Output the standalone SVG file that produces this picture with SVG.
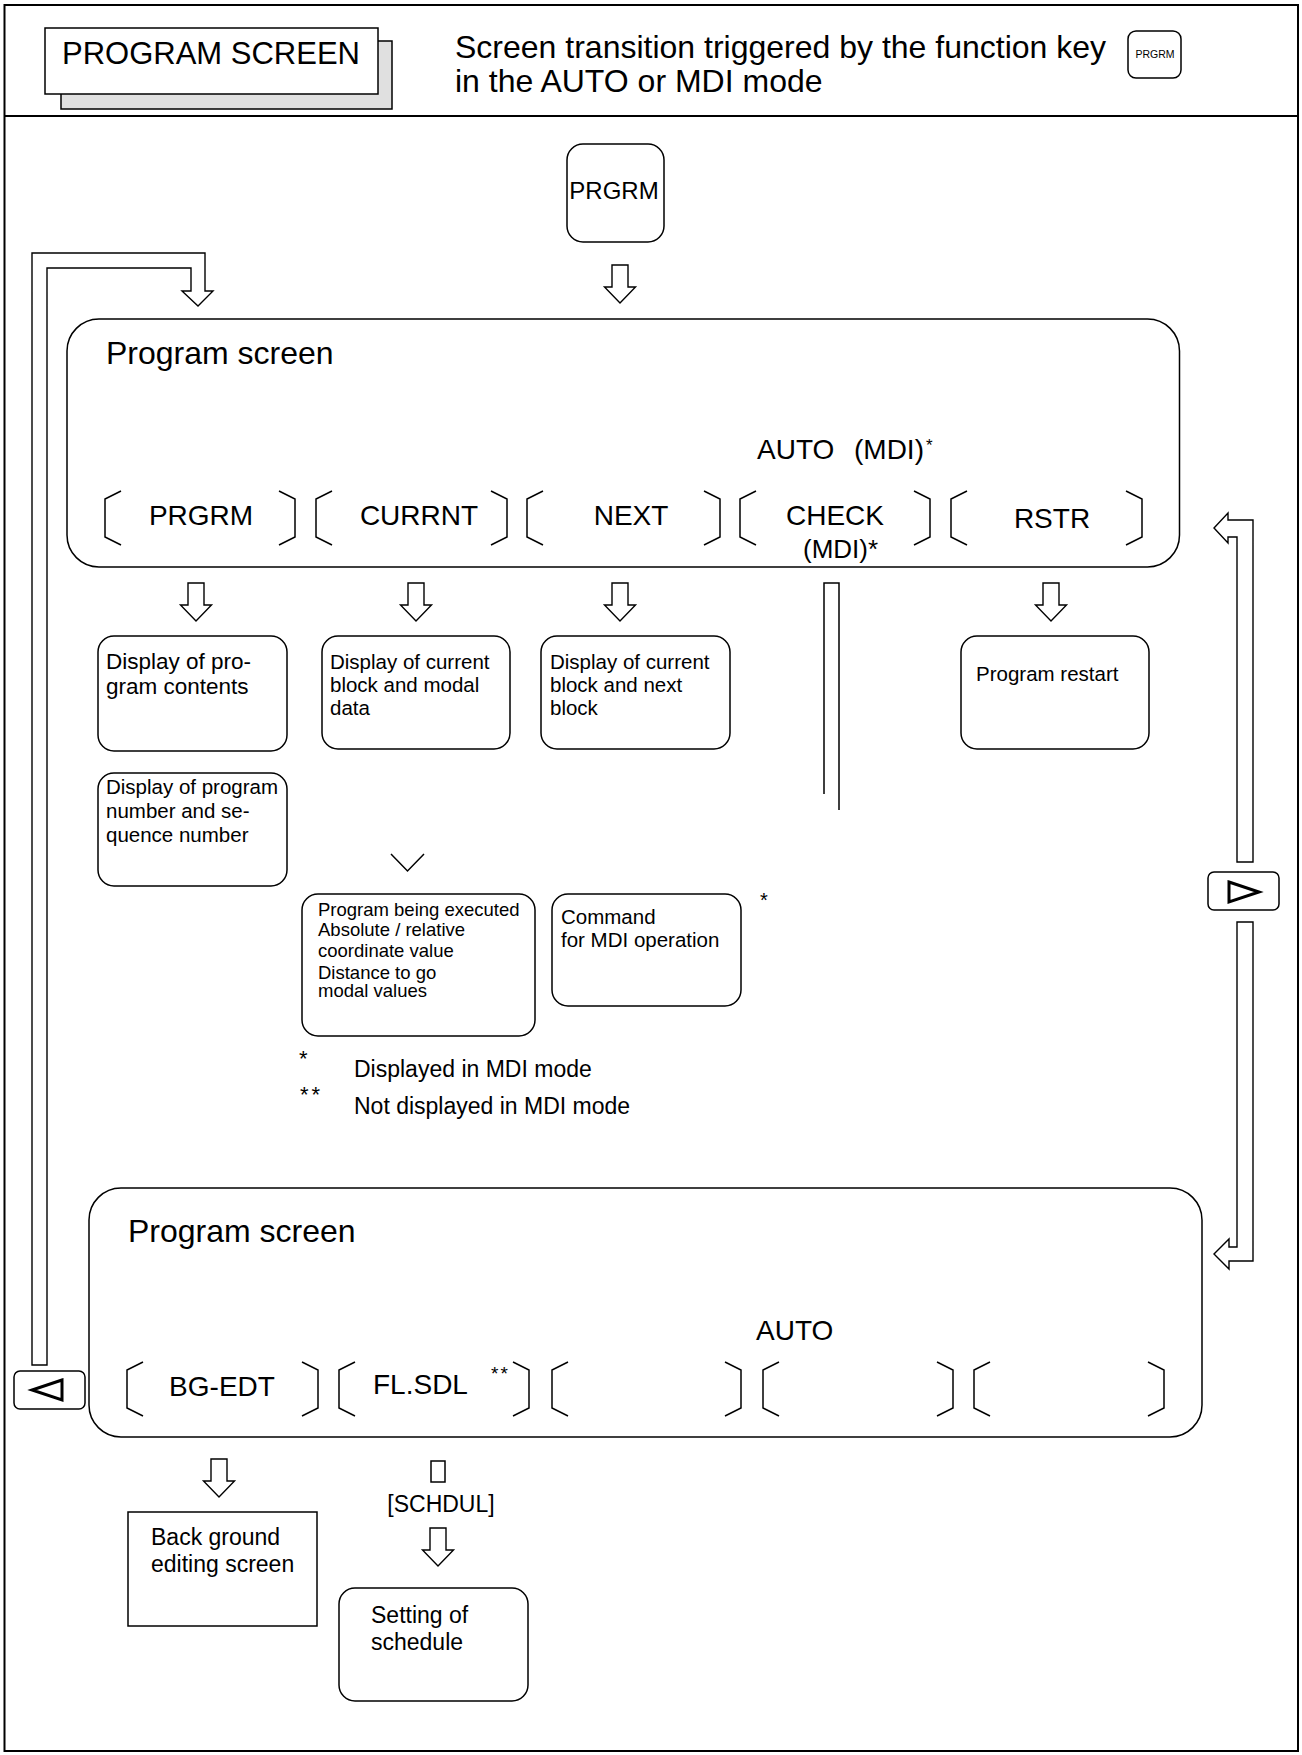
<svg xmlns="http://www.w3.org/2000/svg" width="1302" height="1755" viewBox="0 0 1302 1755">
<style>
text{font-family:"Liberation Sans",Arial,sans-serif;fill:#000}
.frame{fill:none;stroke:#000;stroke-width:2}
.box{fill:#fff;stroke:#000;stroke-width:1.5}
.ln{fill:none;stroke:#000;stroke-width:1.5}
.arr{fill:#fff;stroke:#000;stroke-width:1.4}
.tri{fill:none;stroke:#000;stroke-width:3;stroke-linejoin:miter}
.big{font-size:32px}
.key{font-size:28px}
</style>
<defs>
<path id="darr" class="arr" d="M-8,0 H8 V22 H15.5 L0,38 L-15.5,22 H-8 Z"/>
<path id="lb" class="ln" d="M16,0 L0,8 V46 L16,54"/>
<path id="rb" class="ln" d="M0,0 L16,8 V46 L0,54"/>
</defs>
<rect x="0" y="0" width="1302" height="1755" fill="#fff"/>
<rect class="frame" x="4.5" y="5" width="1293.5" height="1746"/>
<line class="frame" x1="4.5" y1="116" x2="1298" y2="116"/>

<g id="header-title">
<rect x="61" y="41" width="331" height="68" fill="#e0e0e0" stroke="#000" stroke-width="1.5"/>
<rect class="box" x="45" y="28" width="333" height="66"/>
<text x="62" y="64" font-size="31">PROGRAM SCREEN</text>
</g>
<g id="header-note">
<text x="455" y="58" class="big">Screen transition triggered by the function key</text>
<text x="455" y="92" class="big">in the AUTO or MDI mode</text>
<rect class="box" x="1128" y="31" width="53" height="47" rx="8"/>
<text x="1155" y="58" font-size="10.5" text-anchor="middle">PRGRM</text>
</g>

<g id="key-prgrm">
<rect class="box" x="567" y="144" width="97" height="98" rx="16"/>
<text x="614" y="199" font-size="24" text-anchor="middle">PRGRM</text>
</g>

<g id="screen-upper">
<rect class="box" x="67" y="319" width="1112.5" height="248" rx="32"/>
<text x="106" y="364" class="big">Program screen</text>
<text x="757" y="459" class="key">AUTO</text>
<text x="854" y="459" class="key">(MDI)</text>
<text x="926" y="451" font-size="17">*</text>
<use href="#lb" x="105" y="491"/><text x="201" y="525" class="key" text-anchor="middle">PRGRM</text><use href="#rb" x="279" y="491"/>
<use href="#lb" x="316" y="491"/><text x="419" y="525" class="key" text-anchor="middle">CURRNT</text><use href="#rb" x="491" y="491"/>
<use href="#lb" x="527" y="491"/><text x="631" y="525" class="key" text-anchor="middle">NEXT</text><use href="#rb" x="704" y="491"/>
<use href="#lb" x="740" y="491"/><text x="835" y="525" class="key" text-anchor="middle">CHECK</text><use href="#rb" x="914" y="491"/>
<use href="#lb" x="951" y="491"/><text x="1052" y="528" class="key" text-anchor="middle">RSTR</text><use href="#rb" x="1126" y="491"/>
<text x="803" y="558" font-size="26">(MDI)*</text>
</g>

<g id="box-prog-contents">
<rect class="box" x="98" y="636" width="189" height="115" rx="16"/>
<text x="106" y="669" font-size="22.5">Display of pro-</text>
<text x="106" y="694" font-size="22.5">gram contents</text>
</g>
<g id="box-current-modal">
<rect class="box" x="322" y="636" width="188" height="113" rx="16"/>
<text x="330" y="669" font-size="20.5">Display of current</text>
<text x="330" y="692" font-size="20.5">block and modal</text>
<text x="330" y="715" font-size="20.5">data</text>
</g>
<g id="box-current-next">
<rect class="box" x="541" y="636" width="189" height="113" rx="16"/>
<text x="550" y="669" font-size="20.5">Display of current</text>
<text x="550" y="692" font-size="20.5">block and next</text>
<text x="550" y="715" font-size="20.5">block</text>
</g>
<g id="box-restart">
<rect class="box" x="961" y="636" width="188" height="113" rx="16"/>
<text x="976" y="681" font-size="20.5">Program restart</text>
</g>
<g id="box-prog-number">
<rect class="box" x="98" y="773" width="189" height="113" rx="16"/>
<text x="106" y="794" font-size="20.5">Display of program</text>
<text x="106" y="818" font-size="20.5">number and se-</text>
<text x="106" y="842" font-size="20.5">quence number</text>
</g>
<g id="box-executing">
<rect class="box" x="302" y="894" width="233" height="142" rx="16"/>
<text x="318" y="916" font-size="18.5">Program being executed</text>
<text x="318" y="936" font-size="18.5">Absolute / relative</text>
<text x="318" y="957" font-size="18.5">coordinate value</text>
<text x="318" y="979" font-size="18.5">Distance to go</text>
<text x="318" y="997" font-size="18.5">modal values</text>
</g>
<g id="box-mdi-command">
<rect class="box" x="552" y="894" width="189" height="112" rx="16"/>
<text x="561" y="924" font-size="20.5">Command</text>
<text x="561" y="947" font-size="20.5">for MDI operation</text>
<text x="760" y="907" font-size="20">*</text>
</g>
<g id="notes">
<text x="299" y="1066" font-size="22">*</text>
<text x="354" y="1077" font-size="23">Displayed in MDI mode</text>
<text x="300" y="1102" font-size="22" letter-spacing="3">**</text>
<text x="354" y="1114" font-size="23">Not displayed in MDI mode</text>
</g>

<g id="screen-lower">
<rect class="box" x="89" y="1188" width="1113" height="249" rx="32"/>
<text x="128" y="1242" class="big">Program screen</text>
<text x="756" y="1340" class="key">AUTO</text>
<use href="#lb" x="127" y="1362"/><text x="222" y="1396" class="key" text-anchor="middle">BG-EDT</text><use href="#rb" x="302" y="1362"/>
<use href="#lb" x="339" y="1362"/><text x="373" y="1394" class="key">FL.SDL</text><text x="491" y="1380" font-size="19" letter-spacing="2">**</text><use href="#rb" x="513" y="1362"/>
<use href="#lb" x="552" y="1362"/><use href="#rb" x="725" y="1362"/>
<use href="#lb" x="763" y="1362"/><use href="#rb" x="937" y="1362"/>
<use href="#lb" x="974" y="1362"/><use href="#rb" x="1148" y="1362"/>
</g>

<g id="box-bg-edit">
<rect class="box" x="128" y="1512" width="189" height="114"/>
<text x="151" y="1545" font-size="23">Back ground</text>
<text x="151" y="1572" font-size="23">editing screen</text>
</g>
<g id="box-schedule">
<rect class="box" x="339" y="1588" width="189" height="113" rx="16"/>
<text x="371" y="1623" font-size="23">Setting of</text>
<text x="371" y="1650" font-size="23">schedule</text>
</g>

<g id="btn-next">
<rect class="box" x="1208" y="872" width="71" height="38" rx="6"/>
<path class="tri" d="M1229,882 L1259,892 L1229,902 Z"/>
</g>
<g id="btn-prev">
<rect class="box" x="14" y="1371" width="71" height="38" rx="6"/>
<path class="tri" d="M62,1380 L32,1390 L62,1400 Z"/>
</g>

<g id="connectors">
<use href="#darr" x="620" y="265"/>
<use href="#darr" x="196" y="583"/>
<use href="#darr" x="416" y="583"/>
<use href="#darr" x="620" y="583"/>
<use href="#darr" x="1051" y="583"/>
<use href="#darr" x="219" y="1459"/>
<use href="#darr" x="438" y="1528"/>
<path class="ln" d="M824,794 V583 H839 V810"/>
<path class="ln" d="M391,854 L407.5,871 L424,854"/>
<path class="arr" d="M32,1365 V253 H205 V291 H213 L198,306 L182,291 H191 V268 H47 V1365 Z"/>
<path class="arr" d="M1253,862 V520 H1228 V513 L1214,528 L1228,543 V537 H1237 V862 Z"/>
<path class="arr" d="M1237,922 V1247 H1229 V1239 L1214,1254 L1229,1269 V1261 H1253 V922 Z"/>
<rect class="ln" x="431" y="1461" width="14" height="21"/>
<text x="441" y="1512" font-size="23" text-anchor="middle">[SCHDUL]</text>
</g>
</svg>
